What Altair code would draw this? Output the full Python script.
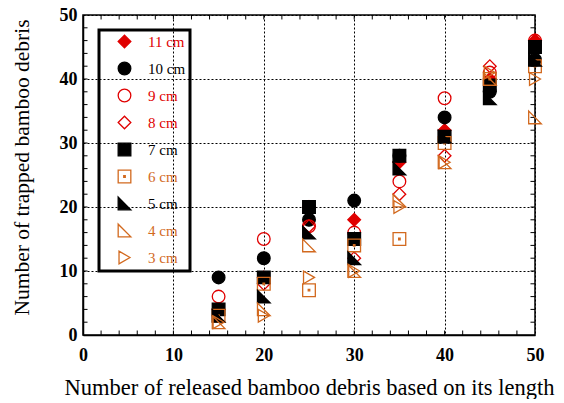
import altair as alt
import pandas as pd

released = [15, 20, 25, 30, 35, 40, 45, 50]
series = ["11 cm", "10 cm", "9 cm", "8 cm", "7 cm", "6 cm", "5 cm", "4 cm", "3 cm"]
values = {
    "11 cm": [4, 9, 20, 18, 27, 32, 40, 46],
    "10 cm": [9, 12, 18, 21, 28, 34, 38, 43],
    "9 cm": [6, 15, 17, 16, 24, 37, 41, 46],
    "8 cm": [4, 8, 17, 12, 22, 28, 42, 46],
    "7 cm": [4, 9, 20, 15, 28, 31, 39, 45],
    "6 cm": [3, 8, 7, 14, 15, 30, 40, 42],
    "5 cm": [3, 6, 16, 12, 26, 31, 37, 43],
    "4 cm": [2, 4, 14, 10, 21, 27, 40, 34],
    "3 cm": [2, 3, 9, 10, 20, 27, 41, 40],
}
RED = "#e00000"
ORG = "#d2691e"
BLK = "black"
strokes = [RED, BLK, RED, RED, BLK, ORG, BLK, ORG, ORG]
fills = [RED, BLK, "transparent", "transparent", BLK, "transparent", BLK, "transparent", "transparent"]
SQDOT = "M-1,-1H1V1H-1Z M-0.12,-0.12H0.12V0.12H-0.12Z"
TRI = "M-1,-1L-1,1L1,1Z"
shapes = ["diamond", "circle", "circle", "diamond", "square", SQDOT, TRI, TRI, "triangle-right"]

minor = [v for v in range(2, 50, 2)]

rows = []
for s in series:
    for x, y in zip(released, values[s]):
        rows.append({"series": s, "x": x, "y": y})
df = pd.DataFrame(rows)

FONT = "Liberation Serif"

label_color_expr = (
    "indexof(['11 cm','9 cm','8 cm'], datum.label) >= 0 ? '" + RED + "' : "
    "(indexof(['6 cm','4 cm','3 cm'], datum.label) >= 0 ? '" + ORG + "' : 'black')"
)

leg = alt.Legend(
    title=None,
    orient="none",
    legendX=16,
    legendY=15,
    labelFont=FONT,
    labelFontSize=15,
    labelColor={"expr": label_color_expr},
    symbolSize=160,
    symbolStrokeWidth=1.3,
    rowPadding=8,
    padding=4,
    symbolOffset=14,
    labelOffset=16,
    strokeColor="black",
)

xscale = alt.Scale(domain=[0, 50], nice=False)
yscale = alt.Scale(domain=[0, 50], nice=False)

xaxis = alt.Axis(
    title="Number of released bamboo debris based on its length",
    values=[0, 10, 20, 30, 40, 50],
    format="d",
    labelFont=FONT, labelFontSize=18, labelFontWeight="bold", labelColor="black",
    labelPadding=11, labelFlush=False,
    ticks=False, tickSize=0,
    grid=True, gridDash=[2, 2], gridColor="black", gridWidth=1, gridOpacity=1,
    domainColor="black", domainWidth=1.5,
    titleFont=FONT, titleFontSize=22.5, titleFontWeight="normal", titleColor="black",
    titleBaseline="middle", titleX=226, titleY=52,
)
yaxis = alt.Axis(
    title="Number of trapped bamboo debris",
    values=[0, 10, 20, 30, 40, 50],
    format="d",
    labelFont=FONT, labelFontSize=18, labelFontWeight="bold", labelColor="black",
    labelPadding=6, labelFlush=False,
    ticks=False, tickSize=0,
    grid=True, gridDash=[2, 2], gridColor="black", gridWidth=1, gridOpacity=1,
    domainColor="black", domainWidth=1.5,
    titleFont=FONT, titleFontSize=21.5, titleFontWeight="normal", titleColor="black",
    titleBaseline="middle", titleAlign="center", titleAngle=-90, titleX=-61, titleY=152,
)

points = alt.Chart(df).mark_point(size=160, strokeWidth=1.3, opacity=1).encode(
    x=alt.X("x:Q", scale=xscale, axis=xaxis),
    y=alt.Y("y:Q", scale=yscale, axis=yaxis),
    shape=alt.Shape("series:N", scale=alt.Scale(domain=series, range=shapes), legend=leg, sort=series),
    fill=alt.Fill("series:N", scale=alt.Scale(domain=series, range=fills), legend=leg, sort=series),
    stroke=alt.Stroke("series:N", scale=alt.Scale(domain=series, range=strokes), legend=leg, sort=series),
    order=alt.Order("idx:Q"),
).transform_calculate(
    idx="indexof(" + str(series) + ", datum.series)"
)

mdf = pd.DataFrame({"v": minor})
tick_style = dict(color="black", strokeWidth=1)
bottom = alt.Chart(mdf).mark_rule(**tick_style).encode(
    x=alt.X("v:Q", scale=xscale), y=alt.datum(0), y2=alt.datum(0.7))
top = alt.Chart(mdf).mark_rule(**tick_style).encode(
    x=alt.X("v:Q", scale=xscale), y=alt.datum(50), y2=alt.datum(49.3))
left = alt.Chart(mdf).mark_rule(**tick_style).encode(
    y=alt.Y("v:Q", scale=yscale), x=alt.datum(0), x2=alt.datum(0.5))
right = alt.Chart(mdf).mark_rule(**tick_style).encode(
    y=alt.Y("v:Q", scale=yscale), x=alt.datum(50), x2=alt.datum(49.5))

chart = alt.layer(bottom, top, left, right, points).properties(
    width=452,
    height=320,
    autosize=alt.AutoSizeParams(type="none"),
    padding={"left": 75, "top": 7, "right": 21, "bottom": 64},
    background="white",
).configure_view(
    stroke="black", strokeWidth=1.5
).configure_legend(
    strokeWidth=3
)

chart.save("out.html", embed_options={"renderer": "svg", "actions": False})
